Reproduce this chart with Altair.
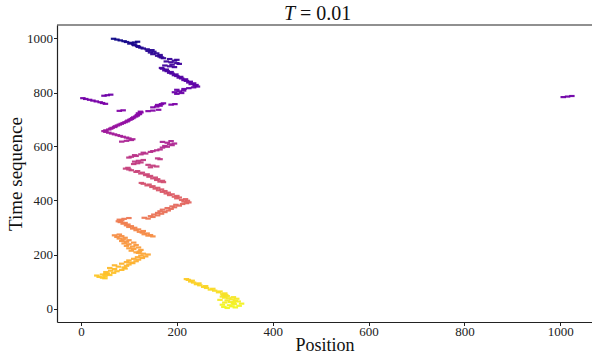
import altair as alt
import pandas as pd

# ---- data (time step, position) ----
t_yellow = [2,4,6,8,10,12,14,16,18,20,22,24,26,28,30,32,34,36,38,40,42,44,46,48,
            50,53,56,60,63,66,70,73,76,80,83,86,90,93,96,100,103,106,109]
x_yellow = [305,322,298,315,330,310,295,320,335,318,300,312,328,322,305,290,315,325,308,300,318,295,305,298,
            302,296,300,287,290,279,270,275,262,256,260,248,241,246,235,229,232,224,220]

t_orange = [112,114,117,120,122,124,126,128,130,132,135,138,140,143,146,148,150,152,155,158,160,163,166,168,
            170,172,175,178,181,184,187,190,193,196,200,203,206,
            208,211,214,217,220,223,226,229,232,235,238,241,244,247,250,253,256,259,262,265,268,271,274,
            267,270,272,275,278,281,284,287,290,293,296,299,302,305,308,311,314,317,320,323,326,329,332,335]
x_orange = [50,45,38,50,33,60,45,52,55,68,52,75,62,85,70,92,60,90,78,95,70,100,85,108,
            105,95,115,100,120,110,128,118,135,125,140,130,120,
            115,122,105,125,110,100,120,108,95,115,100,90,110,95,85,100,88,80,92,75,85,70,80,
            150,140,145,132,138,128,122,130,115,120,108,112,100,105,95,98,88,92,82,78,85,80,90,100]

t_red = [333,336,339,342,345,348,351,354,357,360,363,366,369,372,375,378,381,384,387,390,393,396,399,
         402,405,408,411,414,417,420,423,426,429,432,435,438,441,444,447,450,453,456,459,462,465]
x_red = [140,132,150,145,160,152,168,160,175,165,182,170,188,180,195,190,205,198,212,220,225,215,222,
         210,218,200,205,195,200,185,190,178,182,170,175,162,168,155,160,148,150,138,142,130,126]

t_magenta = [468,470,473,476,479,482,485,488,491,494,497,500,503,506,509,512,515,518,521,
             523,526,529,532,535,538,541,544,547,550,553,556,
             559,562,565,568,571,574,577,580,583,586,589,
             596,599,602,605,608,611,614,617,620]
x_magenta = [172,165,170,158,160,150,155,142,145,135,138,125,128,115,118,105,100,93,98,
             145,158,150,140,110,118,125,112,120,130,165,160,
             100,105,115,112,125,135,130,145,150,158,165,
             170,180,175,190,185,195,180,170,188]

t_purple = [618,621,624,627,630,633,636,639,642,645,648,651,654,657,660,663,666,669,672,675,678,681,684,687,
            690,693,696,699,702,705,708,711,714,717,720,723,726,729,
            758,761,764,767,770,773,776,779, 788,790,792, 732,734,
            745,748,751,754,757,760, 755,757, 731,733,736, 783,785,787]
x_purple = [85,95,105,108,100,95,88,82,76,70,64,58,52,48,52,58,62,65,70,72,76,80,84,88,
            92,96,98,102,105,108,110,114,117,118,122,120,125,124,
            51,45,40,32,25,18,10,4, 48,55,62, 80,88,
            150,158,165,160,168,172, 188,196, 140,150,162, 1006,1015,1024]

t_violet = [795,798,801,804,807,810,813,816,819,822,825,828,831,834,837,840,843,846,849,852,855,858,861,864,
            867,870,873,876,879,882,885,888,891,
            894,897,900,903,906,909,912,915,918,921,924,927,930,933,
            936,939,942,945,948,951,954,957,960,963,966,969,972,975,978,981,984,987,990,993,996,999,985,988]
x_violet = [200,210,195,205,214,200,215,225,235,243,238,240,230,235,225,228,220,215,218,210,205,208,200,195,
            198,190,185,188,180,175,178,170,168,
            195,185,175,190,205,200,188,178,195,200,185,172,168,165,
            160,165,150,158,145,152,140,148,138,130,125,120,118,112,110,102,105,95,90,82,75,68,112,118]

time_seq = t_yellow + t_orange + t_red + t_magenta + t_purple + t_violet
position = x_yellow + x_orange + x_red + x_magenta + x_purple + x_violet

df = pd.DataFrame({"t": time_seq, "x": position})

title_var = ["T"]
title_rest = ["= 0.01"]

W, H = 535, 297
FONT = "Liberation Serif"
DASH = "M-1,-0.4L1,-0.4L1,0.4L-1,0.4Z"
TICKS = [0, 200, 400, 600, 800, 1000]

points = alt.Chart(df).mark_point(shape=DASH, filled=True, size=30, opacity=0.95, strokeWidth=0).encode(
    x=alt.X("x:Q", title="Position",
            scale=alt.Scale(domain=[-50, 1066], nice=False, zero=False),
            axis=alt.Axis(values=TICKS, format="d", labelFont=FONT, labelFontSize=13,
                          labelPadding=0, titlePadding=-2, titleFontSize=18)),
    y=alt.Y("t:Q", title="Time sequence",
            scale=alt.Scale(domain=[-50, 1050], nice=False, zero=False),
            axis=alt.Axis(values=TICKS, format="d", labelFont=FONT, labelFontSize=13,
                          labelPadding=1, titlePadding=1, titleFontSize=19)),
    color=alt.Color("t:Q", scale=alt.Scale(scheme="plasma", reverse=True, domain=[0, 1000]), legend=None),
)

top = alt.Chart(pd.DataFrame({"a": [0]})).mark_rule(color="#222", strokeWidth=1.2).encode(
    x=alt.value(0), x2=alt.value(W), y=alt.value(0)
)

t1 = alt.Chart(pd.DataFrame({"s": title_var})).mark_text(
    font=FONT, fontSize=20, fontStyle="italic", align="right", baseline="alphabetic", color="#111"
).encode(text="s:N", x=alt.value(238), y=alt.value(-5))

t2 = alt.Chart(pd.DataFrame({"s": title_rest})).mark_text(
    font=FONT, fontSize=20, align="left", baseline="alphabetic", color="#111"
).encode(text="s:N", x=alt.value(243), y=alt.value(-5))

chart = alt.layer(points, top, t1, t2).properties(
    width=W, height=H,
    autosize=alt.AutoSizeParams(type="none"),
    padding={"left": 57, "top": 25, "right": 0, "bottom": 34},
).configure_view(stroke=None).configure_axis(
    domainColor="#222", domainWidth=1.2, tickColor="#222", tickSize=3.5, tickWidth=1,
    labelColor="#222", titleFont=FONT, titleFontWeight="normal", titleColor="#111",
    grid=False,
)

chart.save("out.html", embed_options={"renderer": "svg", "actions": False})
